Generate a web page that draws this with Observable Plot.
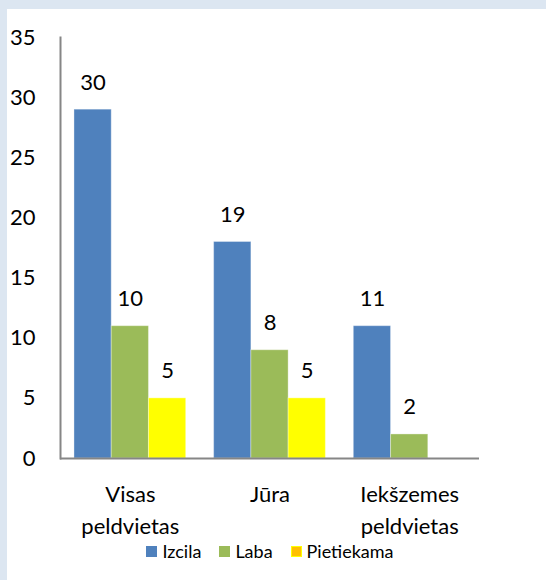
<!DOCTYPE html>
<html>
<head>
<meta charset="utf-8">
<script src="https://cdn.jsdelivr.net/npm/d3@7"></script>
<script src="https://cdn.jsdelivr.net/npm/@observablehq/plot@0.6"></script>
<style>
  html, body { margin: 0; padding: 0; background: #dce6f1; width: 546px; height: 580px; overflow: hidden; }
  #panel { position: absolute; left: 7px; top: 9px; width: 539px; height: 571px; background: #fff; font-family: Lato, "Open Sans", sans-serif; }
  #legend { position: absolute; left: 0; top: 531px; width: 539px; box-sizing: border-box; display: flex; justify-content: center; align-items: center; gap: 18px; height: 22px; padding-right: 13px; font-size: 18px; color: #000; }
  #legend .item { display: flex; align-items: center; gap: 5px; }
  #legend .sw { width: 11px; height: 11px; box-sizing: border-box; }
  svg { display: block; }
</style>
</head>
<body>
<div id="panel"><div id="chart"></div><div id="legend"></div></div>
<script>
const groups = ["Visas peldvietas", "Jūra", "Iekšzemes peldvietas"];
const groupTickLabels = ["Visas\npeldvietas", "Jūra", "Iekšzemes\npeldvietas"];
const seriesNames = ["Izcila", "Laba", "Pietiekama"];
const izcilaValues = [29, 18, 11];
const labaValues = [11, 9, 2];
const pietiekamaValues = [5, 5, null];
const izcilaLabels = ["30", "19", "11"];
const labaLabels = ["10", "8", "2"];
const pietiekamaLabels = ["5", "5", null];
const yTicks = [0, 5, 10, 15, 20, 25, 30, 35];

const seriesColors = ["#4f81bd", "#9bbb59", "#ffff00"];
const legendFill = ["#4f81bd", "#9bbb59", "#ffc000"];
const legendStroke = ["#4f81bd", "#9bbb59", "#ffff00"];

const seriesValues = [izcilaValues, labaValues, pietiekamaValues];
const seriesLabels = [izcilaLabels, labaLabels, pietiekamaLabels];

const W = 539, H = 571, ml = 53, mr = 67, mt = 28, mb = 122;
const pInner = 0.2, pOuter = 0.1;
const step = (W - ml - mr) / (groups.length - pInner + 2 * pOuter);
const bw = step * (1 - pInner);
const slot = bw / seriesNames.length;

const marks = [];
seriesNames.forEach((s, k) => {
  const rows = groups.map((g, i) => ({group: g, value: seriesValues[k][i], label: seriesLabels[k][i]}))
    .filter(d => d.value != null);
  const offset = (k - 1) * slot;
  marks.push(Plot.barY(rows, {
    x: "group", y: "value", fill: seriesColors[k],
    insetLeft: slot, insetRight: slot, dx: offset,
    stroke: "#ffffff", strokeOpacity: 0.35, strokeWidth: 1
  }));
  marks.push(Plot.text(rows, {
    x: "group", y: "value", text: "label", dx: offset, dy: -27,
    fontSize: 22, fill: "#000"
  }));
});

const chart = Plot.plot({
  width: W, height: H,
  marginLeft: ml, marginRight: mr, marginTop: mt, marginBottom: mb,
  style: {fontFamily: "Lato, 'Open Sans', sans-serif", fontSize: "22px", color: "#000", background: "transparent"},
  x: {domain: groups, paddingInner: pInner, paddingOuter: pOuter, round: false},
  y: {domain: [0, 35]},
  marks: [
    ...marks,
    Plot.ruleY([0], {stroke: "#868686", strokeWidth: 2}),
    Plot.frame({anchor: "left", stroke: "#868686", strokeWidth: 2}),
    Plot.axisY({ticks: yTicks, tickSize: 0, tickPadding: 25, fontSize: 22, label: null}),
    Plot.axisX({tickSize: 0, tickPadding: 21, fontSize: 22, lineHeight: 1.44, label: null,
      tickFormat: d => groupTickLabels[groups.indexOf(d)]})
  ]
});
document.getElementById("chart").appendChild(chart);

const legend = document.getElementById("legend");
seriesNames.forEach((s, k) => {
  const item = document.createElement("div");
  item.className = "item";
  const sw = document.createElement("div");
  sw.className = "sw";
  sw.style.background = legendFill[k];
  sw.style.border = "1.5px solid " + legendStroke[k];
  const t = document.createElement("span");
  t.textContent = s;
  item.appendChild(sw);
  item.appendChild(t);
  legend.appendChild(item);
});
</script>
</body>
</html>
